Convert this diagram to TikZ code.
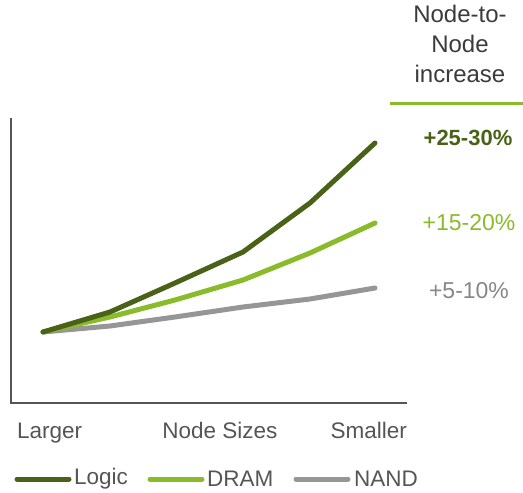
\documentclass[tikz,border=0pt]{standalone}
\usepackage{fontspec}
\setmainfont{Liberation Sans}
\usetikzlibrary{positioning}
\definecolor{logicgreen}{RGB}{74,98,24}
\definecolor{dramgreen}{RGB}{138,187,42}
\definecolor{nandgray}{RGB}{150,150,150}
\definecolor{textgray}{RGB}{85,85,85}

\begin{document}
\begin{tikzpicture}[x=1pt, y=-1pt,
    series/.style={line width=5pt, line cap=round, line join=round},
    axislbl/.style={font=\fontsize{22.5}{27}\selectfont, text=textgray, inner sep=0pt},
    pctlbl/.style={font=\fontsize{23}{27}\selectfont, inner sep=0pt, anchor=base},
    keyline/.style={line width=5pt, line cap=round}]
    \useasboundingbox (0,0) rectangle (523,493);

    % Header
    \node[font=\fontsize{24}{30}\selectfont, text=textgray!70!black, align=center,
          inner sep=0pt, anchor=north] (head) at (460,5) {Node-to-\\Node\\increase};
    \draw[dramgreen, line width=3pt] (390,103) -- (523,103);

    % Axes
    \draw[textgray, line width=1.5pt] (11,118) -- (11,403) -- (407,403);

    % Series
    \draw[series, nandgray] (43,332) -- (110,326) -- (175,317) -- (243,307) -- (310,299) -- (375,288);
    \draw[series, dramgreen] (43,332) -- (110,317) -- (175,300) -- (243,280) -- (310,253) -- (375,223);
    \draw[series, logicgreen] (43,332) -- (110,312) -- (175,283) -- (243,252) -- (310,203) -- (375,143);

    % Increase labels
    \node[pctlbl, text=logicgreen, font=\fontsize{22}{27}\selectfont\bfseries] (logicpct) at (468,145) {+25-30\%};
    \node[pctlbl, text=dramgreen] (drampct) at (469,230) {+15-20\%};
    \node[pctlbl, text=nandgray!90!black] (nandpct) at (469,298) {+5-10\%};

    % Axis labels
    \node[axislbl, anchor=base west] (larger) at (17,438) {Larger};
    \node[axislbl, anchor=base] (sizes) at (220,438) {Node Sizes};
    \node[axislbl, anchor=base east] (smaller) at (407,438) {Smaller};

    % Legend
    \coordinate (k1a) at (17,479);
    \coordinate (k1b) at (69,479);
    \draw[keyline, logicgreen] (k1a) -- (k1b);
    \node[axislbl, anchor=west] (logickey) at (74,479) {Logic};
    \coordinate (k2a) at (150,479);
    \coordinate (k2b) at (202,479);
    \draw[keyline, dramgreen] (k2a) -- (k2b);
    \node[axislbl, anchor=west] (dramkey) at (207,479) {DRAM};
    \coordinate (k3a) at (296,479);
    \coordinate (k3b) at (348,479);
    \draw[keyline, nandgray] (k3a) -- (k3b);
    \node[axislbl, anchor=west] (nandkey) at (354,479) {NAND};
\end{tikzpicture}
\end{document}
